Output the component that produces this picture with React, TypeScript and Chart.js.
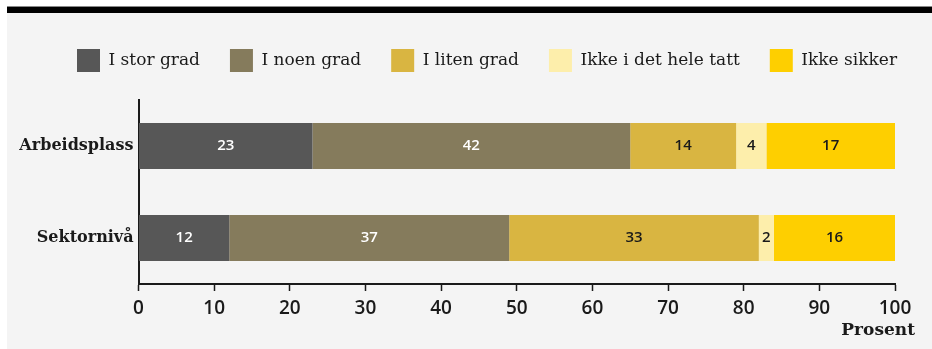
import React, { useEffect, useRef } from "react";
import { Chart, registerables } from "chart.js";

Chart.register(...registerables);

const categories = ["Arbeidsplass", "Sektornivå"];
const seriesNames = ["I stor grad", "I noen grad", "I liten grad", "Ikke i det hele tatt", "Ikke sikker"];
const iStorGrad = [23, 12];
const iNoenGrad = [42, 37];
const iLitenGrad = [14, 33];
const ikkeIDetHeleTatt = [4, 2];
const ikkeSikker = [17, 16];
const xTicks = [0, 10, 20, 30, 40, 50, 60, 70, 80, 90, 100];
const axisTitle = "Prosent";

const colors = ["#575757", "#857b5c", "#d9b541", "#fdeeab", "#fecf00"];
const labelColors = ["#ffffff", "#ffffff", "#1a1a1a", "#1a1a1a", "#1a1a1a"];

const SERIF = "'DejaVu Serif', serif";
const SANS = "'Open Sans', sans-serif";

const valueLabels = {
  id: "valueLabels",
  afterDatasetsDraw(chart: any) {
    const ctx = chart.ctx;
    ctx.save();
    ctx.font = `600 15px ${SANS}`;
    ctx.textAlign = "center";
    ctx.textBaseline = "middle";
    chart.data.datasets.forEach((ds: any, di: number) => {
      const meta = chart.getDatasetMeta(di);
      meta.data.forEach((bar: any, i: number) => {
        const v = ds.data[i];
        const x = (bar.x + bar.base) / 2;
        ctx.fillStyle = labelColors[di];
        ctx.fillText(String(v), x, bar.y);
      });
    });
    ctx.restore();
  },
};

const axisTitlePlugin = {
  id: "axisTitlePlugin",
  afterDraw(chart: any) {
    const ctx = chart.ctx;
    const area = chart.chartArea;
    ctx.save();
    ctx.font = `bold 17px ${SERIF}`;
    ctx.fillStyle = "#1a1a1a";
    ctx.textAlign = "right";
    ctx.textBaseline = "middle";
    ctx.fillText(axisTitle, area.right + 20, area.bottom + 47);
    ctx.restore();
  },
};

const legendSpacing = {
  id: "legendSpacing",
  beforeInit(chart: any) {
    const legend = chart.legend;
    if (!legend) return;
    const origFit = legend.fit;
    legend.fit = function () {
      origFit.call(this);
      this.height += 18;
    };
  },
  afterLayout(chart: any) {
    const legend = chart.legend;
    if (!legend) return;
    legend.left += 36;
    legend.right += 36;
  },
};

export default function App() {
  const ref = useRef<HTMLCanvasElement>(null);
  useEffect(() => {
    document.body.style.margin = "0";
    const seriesData = [iStorGrad, iNoenGrad, iLitenGrad, ikkeIDetHeleTatt, ikkeSikker];
    const chart = new Chart(ref.current as HTMLCanvasElement, {
      type: "bar",
      data: {
        labels: categories,
        datasets: seriesNames.map((name, i) => ({
          label: name,
          data: seriesData[i],
          backgroundColor: colors[i],
          borderWidth: 0,
          barPercentage: 0.5,
          categoryPercentage: 1,
        })),
      },
      options: {
        indexAxis: "y",
        responsive: false,
        animation: false,
        layout: { padding: { top: 6, left: 0, right: 37, bottom: 0 } },
        plugins: {
          legend: {
            position: "top",
            labels: {
              boxWidth: 23,
              boxHeight: 23,
              padding: 30,
              color: "#1a1a1a",
              font: { family: SERIF, size: 17 },
            },
          },
          tooltip: { enabled: false },
        },
        scales: {
          x: {
            stacked: true,
            min: 0,
            max: 100,
            afterBuildTicks(scale: any) {
              scale.ticks = xTicks.map((v) => ({ value: v }));
            },
            afterFit(scale: any) {
              scale.height = 65;
            },
            grid: {
              drawOnChartArea: false,
              drawTicks: true,
              tickLength: 7,
              tickColor: "#1a1a1a",
              tickWidth: 1.5,
            },
            border: { color: "#1a1a1a", width: 2 },
            ticks: {
              color: "#1a1a1a",
              padding: 6,
              font: { family: SANS, size: 19, weight: 600 },
            },
          },
          y: {
            stacked: true,
            afterFit(scale: any) {
              scale.width = 131.5;
            },
            grid: { display: false, drawTicks: false },
            border: { color: "#1a1a1a", width: 2 },
            ticks: {
              color: "#1a1a1a",
              padding: 5,
              font: { family: SERIF, size: 16, weight: "bold" },
            },
          },
        },
      },
      plugins: [valueLabels, axisTitlePlugin, legendSpacing],
    } as any);
    return () => chart.destroy();
  }, []);

  return (
    <div style={{ position: "relative", width: 932, height: 349, overflow: "hidden" }}>
      <div style={{ position: "absolute", left: 7, top: 6, width: 925, height: 1, background: "#888" }} />
      <div style={{ position: "absolute", left: 7, top: 7, width: 925, height: 6, background: "#000" }} />
      <div style={{ position: "absolute", left: 7, top: 13, width: 925, height: 336, background: "#f4f4f4" }}>
        <canvas ref={ref} width={925} height={336} style={{ display: "block" }} />
      </div>
    </div>
  );
}
